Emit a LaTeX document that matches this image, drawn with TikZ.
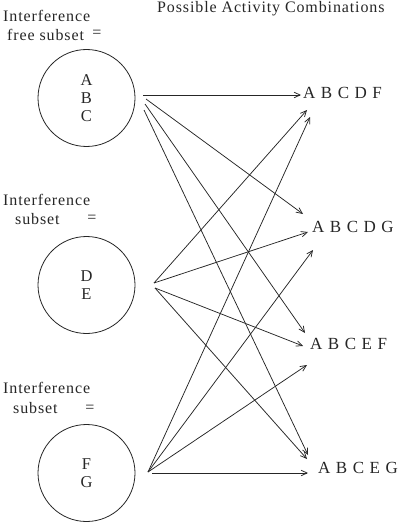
\documentclass[tikz,border=0pt]{standalone}
\usepackage{fontspec}
\setmainfont[LetterSpace=5.5]{Liberation Serif}
\usetikzlibrary{arrows.meta}
\newcommand{\lsp}{\hspace{5.5pt}}
\begin{document}
\begin{tikzpicture}[x=1pt,y=-1pt,
  lbl/.style={anchor=base west,inner sep=0pt,font=\fontsize{16}{18}\selectfont,text=black!85},
  eq/.style={anchor=center,inner sep=0pt,font=\fontsize{16}{18}\selectfont,text=black!85},
  combo/.style={anchor=base west,inner sep=0pt,font=\fontsize{17}{19}\selectfont,text=black!85},
  setcircle/.style={circle,draw=black!85,line width=0.8pt,minimum size=97pt,inner sep=0pt,
    align=center,font=\fontsize{16.5}{18}\selectfont,text=black!85},
  arr/.style={draw=black!85,line width=0.75pt,-{Straight Barb[length=6pt,width=5.5pt,line width=0.75pt]}}
]
\useasboundingbox (0,0) rectangle (414,524);

% title
\node[lbl] (title) at (157,13) {Possible Activity Combinations};

% left labels
\node[lbl] (l1a) at (3,22) {Interference};
\node[lbl] (l1b) at (7,41) {free subset};
\node[eq]  (l1e) at (97,34) {=};
\node[lbl] (l2a) at (3,205) {Interference};
\node[lbl] (l2b) at (15,224) {subset};
\node[eq]  (l2e) at (92,219) {=};
\node[lbl] (l3a) at (3,393) {Interference};
\node[lbl] (l3b) at (13,413) {subset};
\node[eq]  (l3e) at (90,409) {=};

% circles
\node[setcircle] (c1) at (86.5,98) {A\\B\\C};
\node[setcircle] (c2) at (86.5,285) {D\\E};
\node[setcircle] (c3) at (86.5,473) {F\\G};

% combinations
\node[combo] (k1) at (303,99) {A\lsp B\lsp C\lsp D\lsp F};
\node[combo] (k2) at (312,232) {A\lsp B\lsp C\lsp D\lsp G};
\node[combo] (k3) at (310,349) {A\lsp B\lsp C\lsp E\lsp F};
\node[combo] (k4) at (318,473) {A\lsp B\lsp C\lsp E\lsp G};

% source points
\coordinate (s1a) at (143,95);
\coordinate (s1b) at (146,99);
\coordinate (s1c) at (145,104);
\coordinate (s1d) at (144,110);
\coordinate (s2a) at (154,283);
\coordinate (s2b) at (155,288);
\coordinate (s3a) at (148,472);
\coordinate (s3b) at (152,473);

% target points
\coordinate (t1a) at (301,95);
\coordinate (t1b) at (307,110);
\coordinate (t1c) at (310,117);
\coordinate (t2a) at (303,214);
\coordinate (t2b) at (308,232);
\coordinate (t2c) at (313,250);
\coordinate (t3a) at (305,333);
\coordinate (t3b) at (303,346);
\coordinate (t3c) at (307,365);
\coordinate (t4a) at (308,455);
\coordinate (t4b) at (307,459);
\coordinate (t4c) at (308,473);

% arrows from circle 1
\draw[arr] (s1a) -- (t1a);
\draw[arr] (s1b) -- (t2a);
\draw[arr] (s1c) -- (t3a);
\draw[arr] (s1d) -- (t4a);
% arrows from circle 2
\draw[arr] (s2a) -- (t1b);
\draw[arr] (s2a) -- (t2b);
\draw[arr] (s2b) -- (t3b);
\draw[arr] (s2b) -- (t4b);
% arrows from circle 3
\draw[arr] (s3a) -- (t1c);
\draw[arr] (s3a) -- (t2c);
\draw[arr] (s3a) -- (t3c);
\draw[arr] (s3b) -- (t4c);
\end{tikzpicture}
\end{document}
